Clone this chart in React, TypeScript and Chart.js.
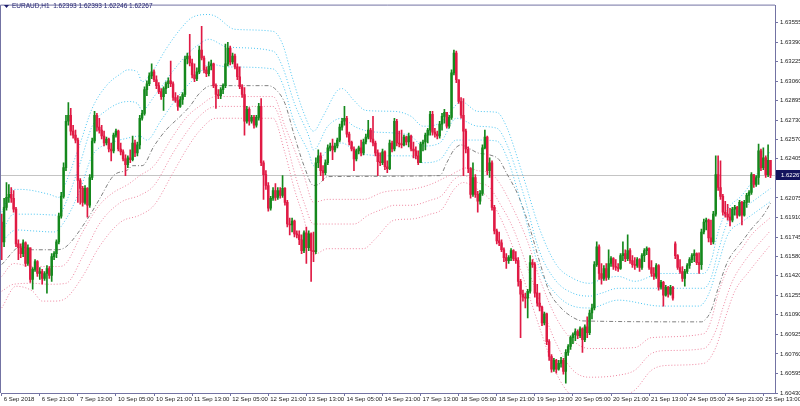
import { useEffect, useRef } from 'react';
import { Chart, registerables } from 'chart.js';

Chart.register(...registerables);

// Prices are stored as points above 1.60000 (1 point = 0.00001)
const BASE = 1.6;
const PT = 0.00001;
const P = (v: number) => +(BASE + v * PT).toFixed(5);

const SYMBOL = 'EURAUD,H1';
const HEADER_OHLC = ['1.62393', '1.62393', '1.62246', '1.62267'];
const LAST_PRICE = 2267;

const FIRST_OPEN = 1872;
// weekend gap opens (bar index -> open)
const GAP_OPENS: Record<number, number> = { 283: 1688 };

const CLOSE = [
  1705, 1996, 2080, 2105, 2072, 1980, 1688, 1655, 1605, 1697,
  1522, 1655, 1388, 1472, 1538, 1438, 1455, 1397, 1438, 1480,
  1422, 1580, 1605, 1705, 1922, 2088, 2330, 2722, 2772, 2638,
  2605, 2563, 2222, 2155, 2038, 2155, 2013, 2247, 2555, 2772,
  2672, 2647, 2597, 2538, 2572, 2488, 2472, 2605, 2638, 2488,
  2463, 2405, 2355, 2413, 2397, 2538, 2455, 2522, 2747, 2788,
  2988, 3038, 3105, 3138, 3072, 3022, 2972, 2930, 2997, 3038,
  3063, 3038, 2922, 2897, 2847, 2905, 2947, 3247, 3272, 3213,
  3113, 3080, 3138, 3322, 3255, 3155, 3122, 3188, 3205, 3022,
  2947, 2938, 2988, 3022, 3205, 3338, 3222, 3272, 3180, 3097,
  3013, 2947, 2722, 2822, 2722, 2755, 2688, 2755, 2847, 2372,
  2272, 2180, 1988, 2072, 2138, 2080, 2138, 2097, 2155, 2038,
  1855, 1847, 1880, 1772, 1763, 1722, 1630, 1780, 1655, 1772,
  1630, 1622, 2372, 2430, 2305, 2288, 2372, 2497, 2513, 2480,
  2513, 2563, 2672, 2722, 2747, 2613, 2547, 2488, 2405, 2472,
  2497, 2455, 2547, 2588, 2647, 2572, 2538, 2455, 2380, 2372,
  2463, 2338, 2322, 2538, 2488, 2722, 2538, 2530, 2522, 2588,
  2547, 2597, 2488, 2472, 2430, 2372, 2530, 2547, 2605, 2647,
  2780, 2630, 2613, 2597, 2697, 2763, 2797, 2680, 2755, 3130,
  3297, 3072, 2888, 2772, 2638, 2488, 2322, 2105, 2247, 2105,
  2047, 2113, 2497, 2588, 2305, 2372, 1996, 1797, 1713, 1697,
  1638, 1572, 1547, 1572, 1630, 1563, 1547, 1372, 1263, 1238,
  1230, 1288, 1530, 1513, 1272, 1188, 1155, 1022, 1097, 863,
  738, 630, 705, 630, 680, 705, 613, 772, 822, 897,
  922, 947, 913, 972, 880, 988, 938, 1105, 1147, 1513,
  1663, 1438, 1397, 1480, 1405, 1522, 1563, 1497, 1488, 1480,
  1588, 1605, 1563, 1630, 1547, 1513, 1505, 1555, 1488, 1588,
  1630, 1647, 1488, 1438, 1413, 1505, 1322, 1363, 1255, 1322,
  1263, 1322, 1230, 1588, 1488, 1455, 1397, 1455, 1505, 1555,
  1588, 1605, 1530, 1513, 1788, 1872, 1888, 1738, 1705, 1938,
  2272, 2163, 2088, 1955, 1938, 1913, 1888, 1980, 1996, 1930,
  2038, 1930, 2038, 2097, 2122, 2272, 2188, 2247, 2472, 2330,
  2413, 2272, 2393, 2267,
];

const HIGH = [
  1938, 2072, 2205, 2188, 2163, 2138, 1996, 1722, 1688, 1722,
  1705, 1680, 1655, 1488, 1555, 1547, 1488, 1472, 1455, 1505,
  1497, 1605, 1622, 1722, 1947, 2122, 2372, 2772, 2880, 2830,
  2688, 2647, 2580, 2238, 2172, 2180, 2163, 2272, 2580, 2805,
  2788, 2747, 2688, 2638, 2588, 2580, 2538, 2622, 2655, 2647,
  2538, 2480, 2438, 2430, 2480, 2597, 2563, 2547, 2772, 2813,
  3013, 3063, 3130, 3205, 3155, 3105, 3047, 2997, 3013, 3055,
  3088, 3230, 3055, 2963, 2938, 2930, 2963, 3272, 3297, 3455,
  3247, 3205, 3172, 3355, 3522, 3272, 3180, 3222, 3238, 3213,
  3038, 2988, 3005, 3038, 3372, 3388, 3355, 3297, 3288, 3205,
  3180, 3030, 3005, 2847, 2838, 2772, 2772, 2772, 2872, 2913,
  2388, 2305, 2205, 2088, 2163, 2197, 2163, 2163, 2263, 2163,
  2055, 1905, 1905, 1888, 1797, 1797, 1763, 1797, 1830, 1797,
  1780, 1788, 2413, 2480, 2455, 2347, 2397, 2522, 2538, 2572,
  2538, 2580, 2697, 2747, 2847, 2763, 2630, 2555, 2505, 2488,
  2513, 2563, 2572, 2613, 2730, 2663, 2763, 2555, 2480, 2455,
  2488, 2472, 2388, 2563, 2555, 2747, 2738, 2638, 2647, 2605,
  2597, 2622, 2605, 2547, 2505, 2472, 2547, 2563, 2622, 2663,
  2805, 2805, 2663, 2638, 2722, 2788, 2822, 2788, 2772, 3155,
  3322, 3313, 3072, 2922, 2913, 2655, 2505, 2330, 2372, 2272,
  2130, 2138, 2522, 2647, 2597, 2413, 2388, 2013, 1813, 1788,
  1722, 1655, 1605, 1588, 1647, 1638, 1622, 1572, 1388, 1297,
  1272, 1305, 1588, 1555, 1530, 1347, 1272, 1163, 1113, 1105,
  880, 755, 722, 713, 705, 730, 722, 797, 838, 913,
  938, 972, 963, 988, 980, 1005, 1072, 1130, 1180, 1538,
  1705, 1680, 1522, 1505, 1522, 1638, 1580, 1572, 1555, 1522,
  1605, 1705, 1638, 1763, 1647, 1588, 1572, 1572, 1563, 1605,
  1647, 1663, 1655, 1547, 1488, 1522, 1513, 1380, 1372, 1338,
  1330, 1338, 1330, 1705, 1597, 1555, 1497, 1472, 1522, 1572,
  1605, 1638, 1613, 1613, 1813, 1897, 1905, 1897, 1888, 1963,
  2430, 2430, 2388, 2105, 2047, 2022, 1988, 1996, 2013, 2005,
  2055, 2047, 2055, 2113, 2138, 2288, 2272, 2263, 2530, 2488,
  2497, 2430, 2522, 2393,
];

const LOW = [
  1555, 1663, 1971, 2038, 2038, 1955, 1663, 1555, 1572, 1580,
  1497, 1505, 1363, 1305, 1455, 1413, 1388, 1347, 1380, 1272,
  1397, 1372, 1555, 1572, 1688, 1905, 2072, 2305, 2688, 2605,
  2580, 2538, 2038, 2022, 2005, 2022, 1913, 1996, 2230, 2538,
  2638, 2622, 2572, 2513, 2522, 2463, 2388, 2455, 2588, 2472,
  2438, 2388, 2263, 2330, 2372, 2388, 2422, 2430, 2488, 2730,
  2772, 2938, 3022, 3080, 3055, 2997, 2955, 2905, 2813, 2955,
  3005, 3013, 2897, 2880, 2813, 2838, 2863, 2930, 3205, 3188,
  3088, 3055, 3063, 3122, 3238, 3130, 3097, 3105, 3155, 3005,
  2830, 2913, 2913, 2955, 3005, 3188, 3197, 3205, 3163, 3072,
  2997, 2922, 2605, 2705, 2688, 2705, 2663, 2672, 2730, 2347,
  2063, 2147, 1963, 1971, 2055, 2055, 2063, 2072, 2080, 2013,
  1830, 1763, 1788, 1747, 1738, 1680, 1605, 1613, 1522, 1630,
  1372, 1538, 1605, 2330, 2263, 2222, 2272, 2355, 2472, 2397,
  2463, 2497, 2547, 2647, 2688, 2588, 2522, 2472, 2305, 2388,
  2447, 2430, 2438, 2530, 2572, 2547, 2513, 2430, 2263, 2347,
  2355, 2313, 2288, 2313, 2463, 2472, 2513, 2505, 2497, 2513,
  2522, 2505, 2472, 2413, 2405, 2355, 2372, 2472, 2480, 2538,
  2605, 2605, 2588, 2572, 2580, 2647, 2705, 2663, 2663, 2738,
  3113, 3047, 2872, 2747, 2263, 2455, 2288, 2072, 2088, 2080,
  1955, 2022, 2097, 2488, 2272, 2247, 1971, 1772, 1688, 1672,
  1622, 1538, 1480, 1522, 1547, 1547, 1522, 1330, 897, 1205,
  1147, 1063, 1272, 1488, 1238, 1163, 1122, 997, 1005, 838,
  705, 605, 613, 597, 622, 647, 588, 513, 747, 797,
  847, 872, 888, 897, 772, 863, 897, 922, 1055, 1130,
  1497, 1388, 1347, 1380, 1380, 1388, 1497, 1472, 1463, 1455,
  1472, 1547, 1538, 1547, 1522, 1488, 1472, 1488, 1455, 1472,
  1538, 1597, 1472, 1413, 1388, 1397, 1297, 1305, 1163, 1247,
  1238, 1255, 1213, 1563, 1472, 1438, 1372, 1330, 1438, 1480,
  1530, 1538, 1513, 1438, 1472, 1772, 1805, 1705, 1680, 1688,
  1922, 2138, 2063, 1930, 1913, 1888, 1838, 1872, 1930, 1905,
  1922, 1847, 1922, 1996, 2038, 2105, 2163, 2172, 2188, 2305,
  2313, 2247, 2255, 2246,
];

// Indicator lines: [bar index, points]
const MA_LINE: [number, number][] = [
  [0, 1513], [8, 1663], [13, 1638], [23, 1638], [27, 1663], [36, 1897], [41, 2063], [47, 2263],
  [53, 2313], [55, 2347], [59, 2347], [64, 2513], [69, 2647], [75, 2763], [79, 2847], [83, 2955],
  [88, 3022], [112, 3022], [116, 2972], [119, 2872], [123, 2597], [127, 2347], [131, 2180],
  [133, 2188], [137, 2255], [184, 2263], [187, 2372], [190, 2480], [193, 2522], [196, 2497],
  [200, 2455], [205, 2438], [209, 2397], [212, 2288], [217, 2097], [222, 1813], [226, 1538],
  [230, 1288], [235, 1147], [239, 1080], [244, 1038], [294, 1030], [295, 1038], [298, 1122],
  [301, 1313], [305, 1538], [311, 1705], [315, 1813], [320, 1930], [323, 2030],
];

const UPPER_1: [number, number][] = [
  [0, 1955], [5, 2147], [8, 2147], [20, 2105], [24, 2080], [27, 2205], [33, 2538], [38, 2830],
  [44, 3022], [50, 3122], [53, 3155], [57, 3138], [59, 3055], [64, 3163], [69, 3330], [75, 3497],
  [80, 3597], [87, 3622], [90, 3605], [98, 3497], [114, 3480], [118, 3372], [122, 3097],
  [127, 2788], [131, 2638], [135, 2763], [141, 2980], [143, 2997], [148, 2897], [153, 2813],
  [165, 2805], [172, 2763], [177, 2680], [184, 2705], [188, 2788], [193, 2888], [200, 2805],
  [208, 2797], [212, 2680], [219, 2263], [226, 1813], [233, 1513], [240, 1397], [247, 1355],
  [252, 1388], [259, 1413], [266, 1372], [277, 1438], [295, 1438], [298, 1538], [301, 1788],
  [305, 1980], [311, 2097], [315, 2205], [323, 2470],
];

const UPPER_2: [number, number][] = [
  [0, 1788], [5, 1938], [13, 1938], [24, 1930], [27, 2038], [33, 2372], [38, 2680], [44, 2813],
  [53, 2888], [57, 2872], [59, 2813], [64, 2930], [72, 3147], [78, 3288], [83, 3372], [87, 3413],
  [95, 3347], [114, 3313], [118, 3180], [123, 2872], [129, 2597], [131, 2480], [137, 2680],
  [143, 2747], [148, 2680], [154, 2638], [165, 2622], [172, 2597], [177, 2513], [184, 2538],
  [191, 2747], [200, 2680], [208, 2663], [212, 2538], [219, 2122], [226, 1622], [233, 1372],
  [240, 1272], [247, 1247], [252, 1272], [259, 1313], [277, 1313], [295, 1313], [298, 1397],
  [301, 1622], [305, 1872], [311, 1980], [315, 2038], [323, 2155],
];

const UPPER_3: [number, number][] = [
  [0, 1705], [6, 1805], [13, 1797], [22, 1788], [27, 1897], [33, 2147], [38, 2430], [46, 2538],
  [53, 2580], [58, 2597], [61, 2563], [67, 2730], [75, 2955], [80, 3063], [83, 3122], [87, 3205],
  [95, 3180], [114, 3163], [118, 3038], [123, 2705], [129, 2455], [131, 2347], [137, 2480],
  [143, 2538], [148, 2480], [154, 2438], [165, 2430], [172, 2430], [177, 2372], [184, 2397],
  [191, 2563], [200, 2563], [208, 2555], [212, 2430], [219, 1980], [226, 1480], [233, 1263],
  [240, 1163], [247, 1147], [259, 1213], [277, 1163], [293, 1163], [297, 1263], [301, 1513],
  [305, 1763], [311, 1872], [315, 1930], [323, 2045],
];

const LOWER_1: [number, number][] = [
  [0, 1413], [5, 1522], [13, 1497], [24, 1497], [27, 1522], [34, 1788], [41, 2013], [47, 2122],
  [53, 2188], [58, 2263], [64, 2347], [72, 2597], [78, 2763], [83, 2847], [90, 2930], [114, 2930],
  [119, 2680], [123, 2480], [127, 2263], [131, 2038], [137, 2063], [152, 2063], [160, 2122],
  [165, 2138], [172, 2147], [180, 2188], [188, 2263], [196, 2330], [200, 2305], [205, 2288],
  [209, 2205], [215, 1980], [221, 1705], [226, 1397], [233, 1063], [240, 872], [247, 805],
  [266, 813], [273, 897], [295, 930], [298, 1038], [301, 1263], [305, 1480], [311, 1647],
  [315, 1763], [323, 1910],
];

const LOWER_2: [number, number][] = [
  [0, 1288], [5, 1347], [13, 1355], [20, 1347], [27, 1355], [34, 1580], [41, 1855], [50, 2038],
  [58, 2097], [64, 2180], [72, 2455], [78, 2638], [83, 2763], [90, 2847], [114, 2847], [119, 2597],
  [123, 2288], [127, 2038], [131, 1855], [148, 1855], [154, 1930], [160, 1980], [165, 2013],
  [172, 2013], [180, 2055], [185, 2097], [190, 2230], [194, 2263], [200, 2205], [205, 2163],
  [209, 2038], [215, 1813], [221, 1480], [226, 1205], [233, 847], [240, 622], [247, 563],
  [259, 580], [266, 622], [273, 763], [280, 788], [295, 805], [300, 955], [303, 1147],
  [307, 1372], [312, 1538], [323, 1800],
];

const LOWER_3: [number, number][] = [
  [0, 1147], [6, 1330], [13, 1288], [17, 1205], [22, 1205], [27, 1230], [34, 1413], [41, 1663],
  [50, 1872], [58, 1930], [64, 2013], [72, 2288], [78, 2497], [83, 2638], [90, 2747], [114, 2747],
  [119, 2455], [123, 2147], [127, 1897], [131, 1597], [137, 1647], [152, 1647], [157, 1730],
  [165, 1888], [172, 1897], [180, 1938], [185, 1980], [190, 2147], [194, 2205], [200, 2147],
  [205, 2063], [209, 1930], [215, 1647], [221, 1288], [226, 980], [233, 597], [239, 413],
  [245, 350], [256, 380], [266, 455], [273, 622], [280, 663], [295, 680], [300, 813],
  [304, 1063], [308, 1288], [314, 1455], [323, 1680],
];

const Y_TICKS = [
  1.63555, 1.6339, 1.63225, 1.6306, 1.62895, 1.6273, 1.6257, 1.62405, 1.6224, 1.62075,
  1.6191, 1.61745, 1.6158, 1.6142, 1.61255, 1.6109, 1.60925, 1.6076, 1.60595, 1.6043,
];

const X_TICK_STEP = 16;
const X_TICK_LABELS = [
  '6 Sep 2018', '6 Sep 21:00', '7 Sep 13:00', '10 Sep 05:00', '10 Sep 21:00', '11 Sep 13:00',
  '12 Sep 05:00', '12 Sep 21:00', '13 Sep 13:00', '14 Sep 05:00', '14 Sep 21:00', '17 Sep 13:00',
  '18 Sep 05:00', '18 Sep 21:00', '19 Sep 13:00', '20 Sep 05:00', '20 Sep 21:00', '21 Sep 13:00',
  '24 Sep 05:00', '24 Sep 21:00', '25 Sep 13:00',
];

const X_MIN = -0.3;
const X_MAX = 324.9;
const Y_MIN = 1.6043;
const Y_MAX = 1.63697;

const FRAME = '#7373a3';
const BULL = '#14881c';
const BEAR = '#e01a44';
const CYAN = '#4cc6f2';
const PINK = '#ee86a0';
const GRAY = '#808080';
const FONT = 'Liberation Sans, Arial, sans-serif';

export default function App() {
  const ref = useRef<HTMLCanvasElement | null>(null);

  useEffect(() => {
    document.body.style.margin = '0';
    const canvas = ref.current;
    if (!canvas) return;

    const OPEN = CLOSE.map((_, i) =>
      i === 0 ? FIRST_OPEN : GAP_OPENS[i] !== undefined ? GAP_OPENS[i] : CLOSE[i - 1]
    );
    const colors = CLOSE.map((c, i) => (c >= OPEN[i] ? BULL : BEAR));
    const bodies = CLOSE.map((c, i) => ({ x: i, y: [P(OPEN[i]), P(c)] }));
    const wicks = CLOSE.map((_, i) => ({ x: i, y: [P(LOW[i]), P(HIGH[i])] }));

    const line = (pts: [number, number][], color: string, dash: number[]) => ({
      type: 'line' as const,
      data: pts.map(([b, v]) => ({ x: b, y: P(v) })),
      borderColor: color,
      borderWidth: 1,
      borderDash: dash,
      pointRadius: 0,
      fill: false,
      cubicInterpolationMode: 'monotone' as const,
      order: 5,
    });

    const overlay = {
      id: 'mt4overlay',
      beforeDatasetsDraw(chart: any) {
        const { ctx, chartArea, scales } = chart;
        const py = Math.round(scales.y.getPixelForValue(P(LAST_PRICE))) + 0.5;
        ctx.save();
        ctx.strokeStyle = '#c4c4c4';
        ctx.lineWidth = 1;
        ctx.beginPath();
        ctx.moveTo(chartArea.left, py);
        ctx.lineTo(chartArea.right, py);
        ctx.stroke();
        ctx.restore();
      },
      afterDraw(chart: any) {
        const { ctx, chartArea, scales } = chart;
        ctx.save();
        // top and left frame
        ctx.strokeStyle = FRAME;
        ctx.lineWidth = 1;
        ctx.beginPath();
        ctx.moveTo(chartArea.left - 0.5, chartArea.bottom);
        ctx.lineTo(chartArea.left - 0.5, chartArea.top - 0.5);
        ctx.lineTo(chartArea.right, chartArea.top - 0.5);
        ctx.stroke();
        // header
        ctx.fillStyle = '#1c1c6c';
        ctx.beginPath();
        ctx.moveTo(4, 5);
        ctx.lineTo(9, 5);
        ctx.lineTo(6.5, 8);
        ctx.closePath();
        ctx.fill();
        ctx.font = `6.5px ${FONT}`;
        ctx.textBaseline = 'middle';
        ctx.textAlign = 'left';
        ctx.fillText(`${SYMBOL}  ${HEADER_OHLC.join(' ')}`, 12, 6.5);
        // current price label
        const py = Math.round(scales.y.getPixelForValue(P(LAST_PRICE)));
        ctx.fillStyle = '#14145e';
        ctx.fillRect(chartArea.right + 1, py - 5, 800 - chartArea.right - 1, 10);
        ctx.fillStyle = '#ffffff';
        ctx.font = `6px ${FONT}`;
        ctx.fillText(P(LAST_PRICE).toFixed(5), chartArea.right + 6, py + 0.5);
        ctx.restore();
      },
    };

    const chart = new Chart(canvas, {
      type: 'bar',
      data: {
        datasets: [
          {
            type: 'bar',
            data: bodies as any,
            backgroundColor: colors,
            barThickness: 1.8,
            minBarLength: 1,
            grouped: false,
            order: 0,
          },
          {
            type: 'bar',
            data: wicks as any,
            backgroundColor: colors,
            barThickness: 1,
            grouped: false,
            order: 1,
          },
          line(UPPER_1, CYAN, [1, 2]),
          line(UPPER_2, CYAN, [1, 2]),
          line(UPPER_3, CYAN, [1, 2]),
          line(MA_LINE, GRAY, [4, 2, 1, 2]),
          line(LOWER_1, PINK, [1, 2]),
          line(LOWER_2, PINK, [1, 2]),
          line(LOWER_3, PINK, [1, 2]),
        ] as any,
      },
      options: {
        animation: false,
        responsive: false,
        devicePixelRatio: 1,
        events: [],
        layout: { padding: { left: 1, top: 1, right: 0, bottom: 0 } },
        plugins: { legend: { display: false }, tooltip: { enabled: false } },
        scales: {
          x: {
            type: 'linear',
            min: X_MIN,
            max: X_MAX,
            offset: false,
            afterBuildTicks: (s: any) => {
              s.ticks = X_TICK_LABELS.map((_, k) => ({ value: k * X_TICK_STEP }));
            },
            afterFit: (s: any) => {
              s.height = 13;
            },
            grid: {
              display: true,
              drawOnChartArea: false,
              drawTicks: true,
              tickLength: 3,
              color: FRAME,
              offset: false,
            },
            border: { display: true, color: FRAME },
            ticks: {
              autoSkip: false,
              maxRotation: 0,
              minRotation: 0,
              align: 'start',
              padding: 0,
              labelOffset: 2,
              color: '#1a1a1a',
              font: { family: FONT, size: 6 },
              callback: (_v: any, i: number) => X_TICK_LABELS[i],
            },
          },
          y: {
            type: 'linear',
            position: 'right',
            min: Y_MIN,
            max: Y_MAX,
            afterBuildTicks: (s: any) => {
              s.ticks = Y_TICKS.map((v) => ({ value: v }));
            },
            afterFit: (s: any) => {
              s.width = 25;
            },
            grid: {
              display: true,
              drawOnChartArea: false,
              drawTicks: true,
              tickLength: 3,
              color: FRAME,
            },
            border: { display: true, color: FRAME },
            ticks: {
              padding: 2,
              color: '#1a1a1a',
              font: { family: FONT, size: 6 },
              callback: (v: any) => Number(v).toFixed(5),
            },
          },
        },
      } as any,
      plugins: [overlay],
    });

    return () => chart.destroy();
  }, []);

  return (
    <div style={{ position: 'absolute', left: 0, top: 0, width: 800, height: 406, background: '#ffffff' }}>
      <canvas ref={ref} width={800} height={406} style={{ display: 'block', width: 800, height: 406 }} />
    </div>
  );
}
